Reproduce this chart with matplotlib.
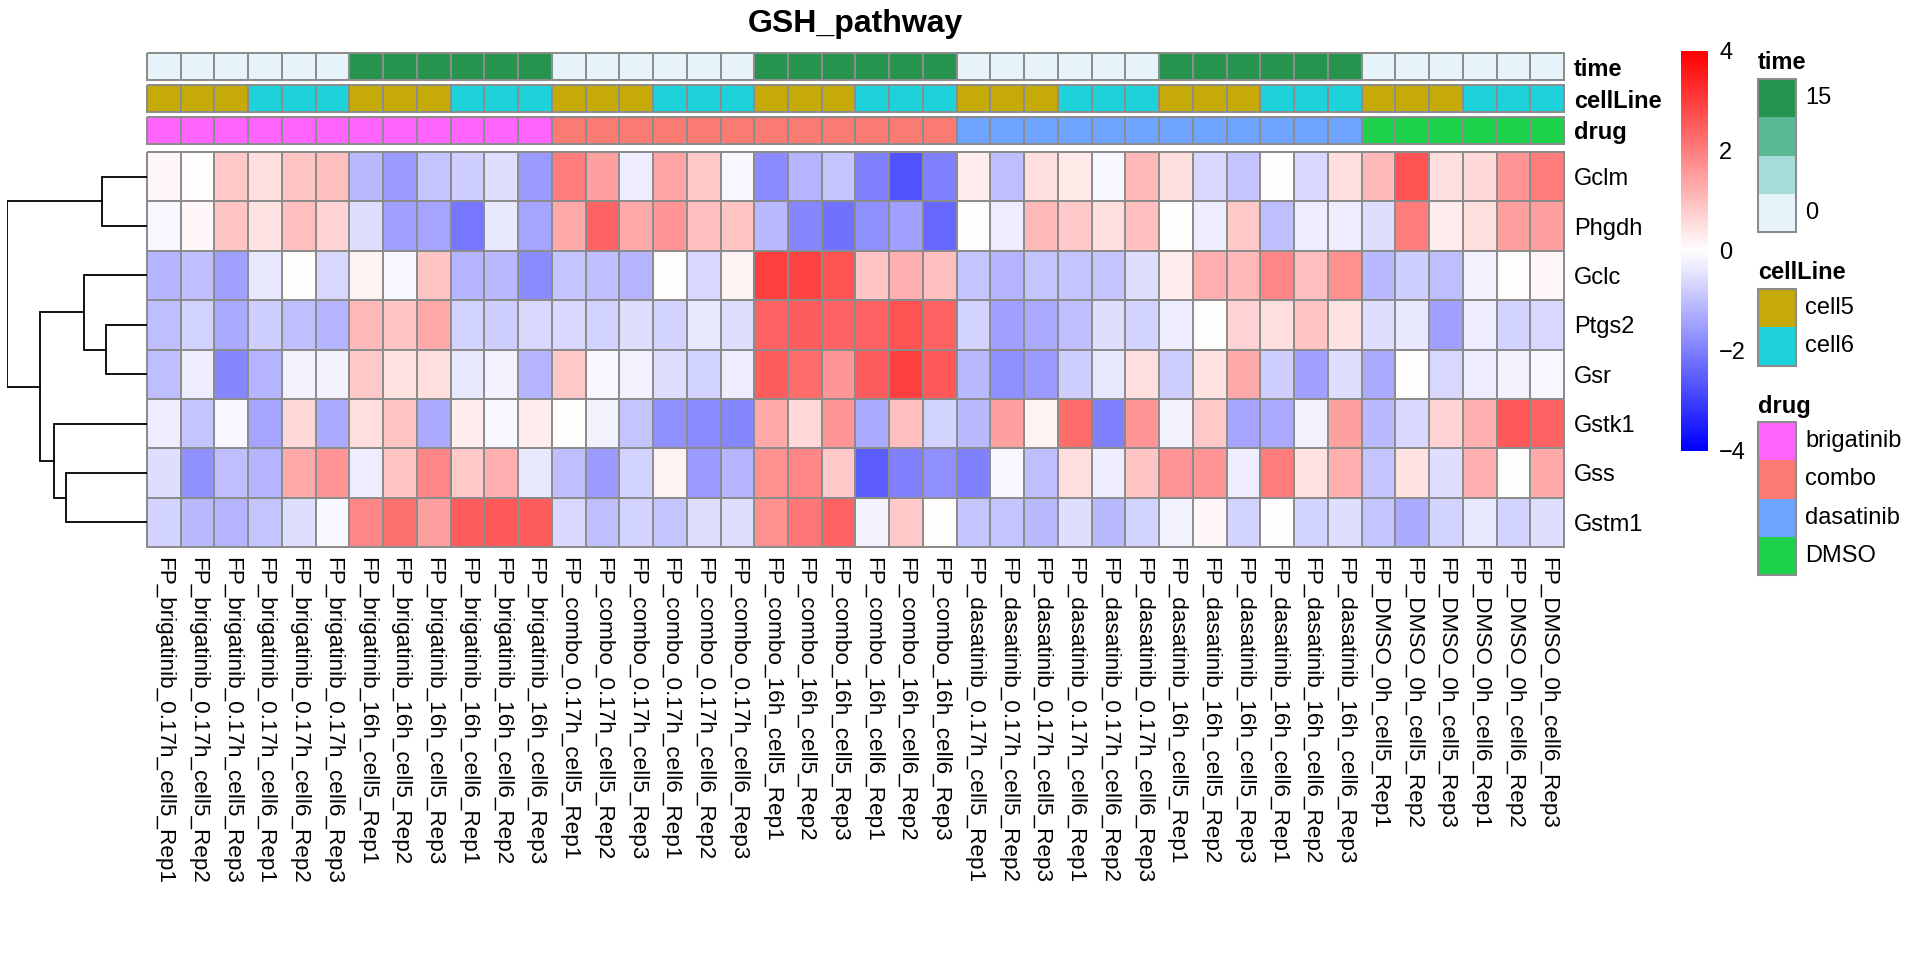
import numpy as np
import matplotlib
matplotlib.use("Agg")
import matplotlib.pyplot as plt
from matplotlib.colors import LinearSegmentedColormap, ListedColormap
from matplotlib.patches import Rectangle
import matplotlib.cm as cm

plt.rcParams['font.family'] = ['Liberation Sans', 'DejaVu Sans']

# genes in displayed (clustered) order
genes = ['Gclm', 'Phgdh', 'Gclc', 'Ptgs2', 'Gsr', 'Gstk1', 'Gss', 'Gstm1']

# sample groups
drugs = ['brigatinib', 'combo', 'dasatinib', 'DMSO']
times_for_drug = {'brigatinib': ['0.17h', '16h'], 'combo': ['0.17h', '16h'],
                  'dasatinib': ['0.17h', '16h'], 'DMSO': ['0h']}
time_value = {'0h': 0, '0.17h': 0.17, '16h': 16}
cells = ['cell5', 'cell6']
reps = ['Rep1', 'Rep2', 'Rep3']

samples, s_drug, s_time, s_cell = [], [], [], []
for d in drugs:
    for t in times_for_drug[d]:
        for c in cells:
            for r in reps:
                samples.append('FP_%s_%s_%s_%s' % (d, t, c, r))
                s_drug.append(d)
                s_time.append(time_value[t])
                s_cell.append(c)

# scaled expression values (row z-scores), one list per gene
gclm = [0.1, 0.05, 0.8, 0.5, 0.9, 1.0, -1.1, -1.6, -0.9, -0.8, -0.5, -1.6,
        2.0, 1.5, -0.3, 1.4, 0.8, -0.1, -1.8, -1.2, -0.9, -2.0, -2.7, -2.0,
        0.3, -1.0, 0.55, 0.35, -0.1, 1.1, 0.55, -0.6, -0.9, 0.05, -0.6, 0.5,
        1.1, 2.7, 0.5, 0.6, 1.6, 2.0]
phgdh = [-0.1, 0.1, 0.9, 0.4, 1.0, 0.7, -0.5, -1.5, -1.4, -2.1, -0.4, -1.4,
         1.3, 2.4, 1.3, 1.6, 1.0, 0.9, -1.1, -1.9, -2.2, -1.7, -1.5, -2.4,
         0.05, -0.3, 1.1, 0.8, 0.5, 1.0, 0.05, -0.3, 0.8, -1.0, -0.3, -0.3,
         -0.5, 2.0, 0.3, 0.5, 1.5, 1.5]
gclc = [-1.2, -1.0, -1.5, -0.4, 0.05, -0.6, 0.2, -0.1, 0.9, -1.2, -1.1, -1.8,
        -0.9, -1.0, -1.2, 0.05, -0.6, 0.2, 3.0, 2.9, 2.7, 0.9, 1.2, 1.0,
        -0.9, -1.2, -0.9, -0.9, -0.9, -0.5, 0.3, 1.2, 1.1, 1.9, 1.0, 1.7,
        -1.1, -0.8, -1.0, -0.2, 0.05, 0.15]
ptgs2 = [-1.0, -0.7, -1.3, -0.8, -1.0, -1.2, 1.1, 0.9, 1.3, -0.7, -0.8, -0.6,
         -0.6, -0.7, -0.5, -0.7, -0.4, -0.5, 2.4, 2.5, 2.4, 2.4, 2.7, 2.4,
         -0.7, -1.5, -1.3, -1.0, -0.5, -0.7, -0.3, 0.05, 0.7, 0.5, 0.9, 0.4,
         -0.5, -0.4, -1.5, -0.3, -0.7, -0.6]
gsr = [-1.0, -0.3, -1.9, -1.2, -0.2, -0.2, 0.8, 0.4, 0.5, -0.4, -0.2, -1.2,
       0.8, -0.1, -0.2, -0.5, -0.7, -0.3, 2.5, 2.3, 1.6, 2.5, 3.0, 2.6,
       -1.1, -1.7, -1.6, -0.8, -0.4, 0.5, -0.8, 0.4, 1.3, -0.8, -1.5, -0.5,
       -1.3, 0.05, -0.6, -0.3, -0.2, -0.15]
gstk1 = [-0.3, -0.9, -0.1, -1.4, 0.6, -1.3, 0.5, 0.9, -1.3, 0.3, -0.1, 0.25,
         0.05, -0.2, -0.9, -1.7, -1.8, -1.9, 1.3, 0.6, 1.6, -1.3, 1.0, -0.7,
         -1.1, 1.5, 0.2, 2.3, -2.0, 1.6, -0.2, 0.8, -1.4, -1.3, -0.2, 1.5,
         -1.1, -0.6, 0.7, 1.2, 2.6, 2.4]
gss = [-0.5, -1.7, -1.0, -1.2, 1.3, 1.6, -0.3, 0.9, 1.9, 0.8, 1.2, -0.4,
       -1.0, -1.6, -0.7, 0.2, -1.6, -1.2, 1.7, 1.9, 0.8, -2.5, -2.0, -1.7,
       -2.0, -0.1, -1.0, 0.5, -0.3, 0.9, 1.6, 1.6, -0.3, 2.0, 0.4, 1.2,
       -0.9, 0.4, -0.5, 1.2, 0.05, 1.3]
gstm1 = [-0.7, -1.1, -1.2, -0.9, -0.5, -0.1, 1.9, 2.2, 1.5, 2.5, 2.6, 2.5,
         -0.6, -1.0, -0.7, -0.9, -0.5, -0.5, 1.7, 2.1, 2.4, -0.2, 0.8, 0.05,
         -0.9, -0.9, -1.1, -0.5, -1.1, -0.7, -0.2, 0.1, -0.7, 0.05, -0.7, -0.5,
         -0.9, -1.3, -0.7, -0.4, -0.7, -0.5]

# row dendrogram: (left child, right child, height); leaves 0..7, new nodes 8..
row_merges = [(3, 4, 1.24), (0, 1, 1.36), (2, 8, 1.88), (6, 7, 2.45),
              (5, 11, 2.79), (10, 12, 3.21), (9, 13, 4.21)]

# annotation colours
time_colors = ['#E6F4F9', '#A6DCD9', '#5BB895', '#26934F']
time_ticks = [0, 15]
cell_colors = {'cell5': '#C5AA08', 'cell6': '#1DD2DB'}
drug_colors = {'brigatinib': '#FF64FF', 'combo': '#F97B72',
               'dasatinib': '#6EA3FF', 'DMSO': '#1ED24B'}

W, H = 1920, 960
fig = plt.figure(figsize=(W / 100, H / 100), dpi=100)


def px_axes(x0, y0, x1, y1):
    return fig.add_axes([x0 / W, 1 - y1 / H, (x1 - x0) / W, (y1 - y0) / H])


grid_col = '#8C8C8C'
cmap = LinearSegmentedColormap.from_list('bwr_ph', ['blue', 'white', 'red'], N=100)
data = np.array([gclm, phgdh, gclc, ptgs2, gsr, gstk1, gss, gstm1])
ncol = data.shape[1]

HX0, HX1 = 147, 1564

# heatmap
ax = px_axes(HX0, 152, HX1, 547)
m = ax.pcolormesh(data, cmap=cmap, vmin=-4, vmax=4, edgecolors=grid_col, linewidth=1.1)
m.set_clip_on(False)
ax.set_xlim(0, ncol)
ax.set_ylim(len(genes), 0)
for s in ax.spines.values():
    s.set_visible(False)
ax.set_xticks(np.arange(ncol) + 0.5)
ax.set_xticklabels(samples, rotation=270, fontsize=16.2)
ax.set_yticks(np.arange(len(genes)) + 0.5)
ax.set_yticklabels(genes, fontsize=17)
ax.yaxis.tick_right()
ax.tick_params(length=0, pad=7)
ax.tick_params(axis='x', pad=7)

# annotation bars
time_cmap = ListedColormap(time_colors)
annots = [
    ('time', 53, 80, np.array([s_time]), time_cmap, 0, 16),
    ('cellLine', 85, 112, np.array([[cells.index(c) for c in s_cell]]),
     ListedColormap([cell_colors[c] for c in cells]), -0.5, 1.5),
    ('drug', 117, 144, np.array([[drugs.index(d) for d in s_drug]]),
     ListedColormap([drug_colors[d] for d in drugs]), -0.5, 3.5),
]
for name, y0, y1, vals, cm_, lo, hi in annots:
    a = px_axes(HX0, y0, HX1, y1)
    mm = a.pcolormesh(vals, cmap=cm_, vmin=lo, vmax=hi, edgecolors=grid_col, linewidth=1.1)
    mm.set_clip_on(False)
    a.set_xlim(0, ncol)
    a.set_ylim(1, 0)
    for s in a.spines.values():
        s.set_visible(False)
    a.set_xticks([])
    a.set_yticks([0.5])
    a.set_yticklabels([name], fontsize=17, fontweight='bold')
    a.yaxis.tick_right()
    a.tick_params(length=0, pad=7)

# row dendrogram
dax = px_axes(7, 152, 147, 547)
node_y = {i: i + 0.5 for i in range(len(genes))}
node_h = {i: 0.0 for i in range(len(genes))}
for k, (a_, b_, h) in enumerate(row_merges):
    nid = len(genes) + k
    dax.plot([node_h[a_], h, h, node_h[b_]], [node_y[a_], node_y[a_], node_y[b_], node_y[b_]],
             color='black', lw=1.3, solid_joinstyle='miter')
    node_y[nid] = (node_y[a_] + node_y[b_]) / 2
    node_h[nid] = h
dax.set_xlim(row_merges[-1][2], 0)
dax.set_ylim(len(genes), 0)
dax.axis('off')

# title
fig.text((HX0 + HX1) / 2 / W, 1 - 32 / H, 'GSH_pathway', ha='center', va='baseline',
         fontsize=23, fontweight='bold')

# colour key
cax = px_axes(1681, 51, 1708, 451)
sm = cm.ScalarMappable(cmap=cmap, norm=plt.Normalize(-4, 4))
cb = fig.colorbar(sm, cax=cax, ticks=[-4, -2, 0, 2, 4])
cb.outline.set_visible(False)
cax.tick_params(length=0, pad=8, labelsize=17)

# annotation legends
lg = fig.add_axes([0, 0, 1, 1])
lg.set_xlim(0, W)
lg.set_ylim(H, 0)
lg.axis('off')
bx0, bw, bh, tx = 1758, 38, 38.25, 1805


def legend_block(title, title_y, top, colors, labels):
    lg.text(bx0, title_y, title, fontsize=17, fontweight='bold', va='baseline', ha='left')
    for i, col in enumerate(colors):
        lg.add_patch(Rectangle((bx0, top + i * bh), bw, bh, facecolor=col, edgecolor='none'))
    lg.add_patch(Rectangle((bx0, top), bw, bh * len(colors), facecolor='none',
                           edgecolor=grid_col, lw=1.5))
    for i, lab in labels:
        lg.text(tx, top + (i + 0.5) * bh, lab, fontsize=17, va='center', ha='left')


legend_block('time', 69, 79, time_colors[::-1],
             [(0, str(time_ticks[1])), (3, str(time_ticks[0]))])
legend_block('cellLine', 279, 289, [cell_colors[c] for c in cells],
             list(enumerate(cells)))
legend_block('drug', 413, 422, [drug_colors[d] for d in drugs],
             list(enumerate(drugs)))

fig.savefig('out.png', dpi=100)
